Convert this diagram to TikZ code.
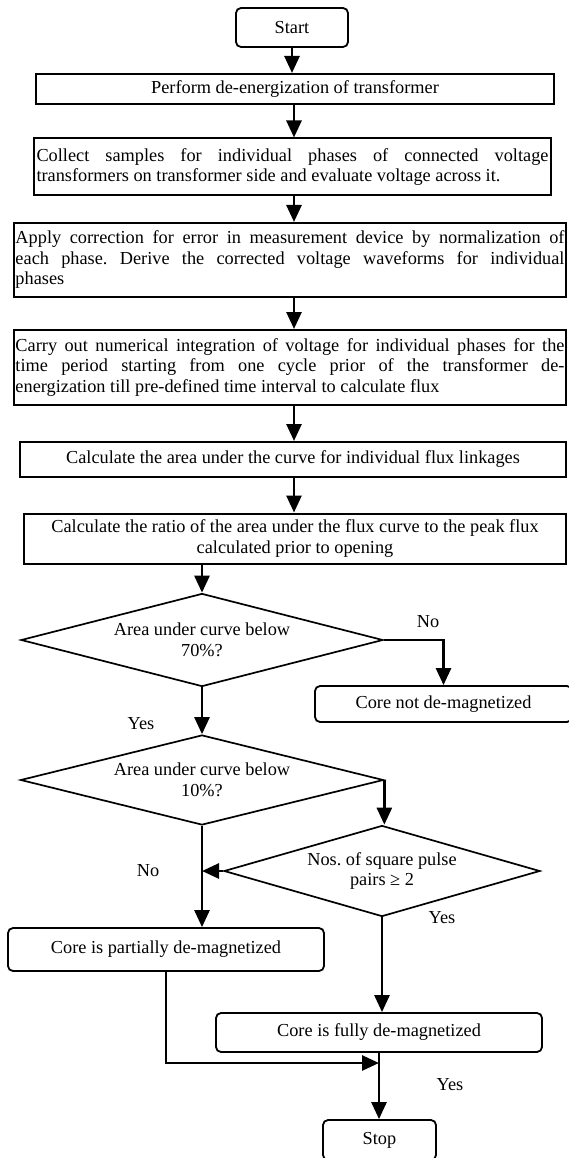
\documentclass[tikz,border=0pt]{standalone}
\usepackage{fontspec}
\setmainfont{Liberation Serif}
\usetikzlibrary{arrows.meta,shapes.geometric}
\begin{document}
\tikzset{
  base/.style={font=\fontsize{18.3}{20.5}\selectfont, inner sep=0pt,
    execute at begin node={\frenchspacing\parindent=0pt\hyphenpenalty=10000\tolerance=10000\hbadness=10000}},
  procbox/.style={base, draw, line width=2pt, rectangle},
  roundbox/.style={base, draw, line width=1.8pt, rounded corners=5pt, align=center},
  decision/.style={base, draw, line width=1.7pt, diamond, align=center},
  arr/.style={line width=2.7pt, -{Triangle[length=17pt,width=15pt]}},
  lbl/.style={base}
}
\begin{tikzpicture}[x=1pt,y=-1pt]
\useasboundingbox (0,0) rectangle (569,1158);
\clip (0,0) rectangle (569,1158);

\node[roundbox, minimum width=112pt, minimum height=39pt] (start) at (292,27.5) {Start};
\node[procbox, minimum width=518pt, minimum height=30pt, align=center] (b1) at (295,89) {Perform de-energization of transformer};
\node[procbox, text width=512pt, minimum width=517pt, minimum height=57pt, align=justify] (b2) at (292.5,167)
  {Collect samples for individual phases of connected voltage\linebreak transformers on transformer side and evaluate voltage across it.};
\node[procbox, text width=549pt, minimum width=552pt, minimum height=74pt, align=justify] (b3) at (290,260)
  {Apply correction for error in measurement device by normalization of\linebreak each phase. Derive the corrected voltage waveforms for individual\linebreak phases};
\node[procbox, text width=549pt, minimum width=552pt, minimum height=75pt, align=justify] (b4) at (290,367.5)
  {Carry out numerical integration of voltage for individual phases for the\linebreak time period starting from one cycle prior of the transformer de-\linebreak energization till pre-defined time interval to calculate flux};
\node[procbox, minimum width=546pt, minimum height=35pt, align=center] (b5) at (293,459.5) {Calculate the area under the curve for individual flux linkages};
\node[procbox, minimum width=542pt, minimum height=50pt, align=center] (b6) at (295,538.5) {Calculate the ratio of the area under the flux curve to the peak flux\\calculated prior to opening};

\node[decision, aspect=3.9, minimum width=362pt, minimum height=93pt] (d1) at (202,640) {Area under curve below\\70\%?};
\node[roundbox, minimum width=257pt, minimum height=36pt] (cnot) at (443.5,704) {Core not de-magnetized};
\node[decision, aspect=4.0, minimum width=363pt, minimum height=90pt] (d2) at (202,780) {Area under curve below\\10\%?};
\node[decision, aspect=3.5, minimum width=316pt, minimum height=91pt] (d3) at (382,871) {Nos. of square pulse\\pairs ≥ 2};
\node[roundbox, minimum width=316pt, minimum height=43pt] (pd) at (166,949.5) {Core is partially de-magnetized};
\node[roundbox, minimum width=326pt, minimum height=39pt] (fd) at (379,1032.5) {Core is fully de-magnetized};
\node[roundbox, minimum width=113pt, minimum height=40pt] (stop) at (379.5,1140) {Stop};

\coordinate (col) at (294,0);
\coordinate (join) at (fd.south |- 0,1063);

\draw[arr] (start.south) -- (start.south |- b1.north);
\draw[arr] (col |- b1.south) -- (col |- b2.north);
\draw[arr] (col |- b2.south) -- (col |- b3.north);
\draw[arr] (col |- b3.south) -- (col |- b4.north);
\draw[arr] (col |- b4.south) -- (col |- b5.north);
\draw[arr] (col |- b5.south) -- (col |- b6.north);
\draw[arr] (d1.north |- b6.south) -- (d1.north);
\draw[arr] (d1.east) -| (cnot.north);
\draw[arr] (d1.south) -- (d2.north);
\draw[arr] (d2.east) -- (d2.east |- d3.north);
\draw[arr] (d2.south) -- (d2.south |- pd.north);
\draw[arr] (d3.west) -- (d3.west -| d2.south);
\draw[arr] (d3.south) -- (d3.south |- fd.north);
\draw[arr] (pd.south) |- (join);
\draw[arr] (fd.south) -- (fd.south |- stop.north);

\node[lbl] (l1) at (428,622) {No};
\node[lbl] (l2) at (141,724) {Yes};
\node[lbl] (l3) at (148,871) {No};
\node[lbl] (l4) at (442,918) {Yes};
\node[lbl] (l5) at (450,1085) {Yes};
\end{tikzpicture}
\end{document}
